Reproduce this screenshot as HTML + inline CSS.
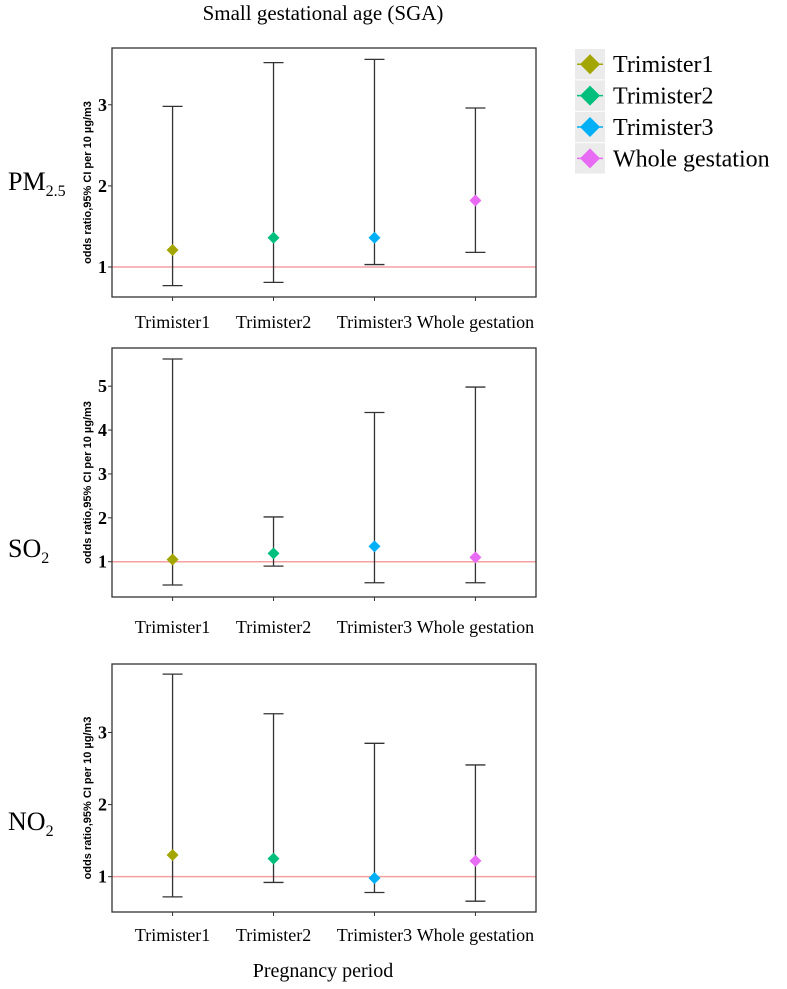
<!DOCTYPE html>
<html><head><meta charset="utf-8"><style>
body{margin:0;background:#fff;}
svg{display:block;}
text{font-family:"Liberation Serif",serif;}
</style></head><body>
<svg id="chart" width="787" height="989" viewBox="0 0 787 989">
<text x="323" y="20" font-size="21" text-anchor="middle">Small gestational age (SGA)</text>
<text x="323" y="977" font-size="20" text-anchor="middle">Pregnancy period</text>
<g id="legend"></g>
</svg>
<script>
const categories = ["Trimister1","Trimister2","Trimister3","Whole gestation"];
const colors = ["#a3a500","#00bf7d","#00b0f6","#e76bf3"];
const pmEst = [1.21, 1.36, 1.36, 1.82];
const pmLo = [0.77, 0.81, 1.03, 1.18];
const pmHi = [2.98, 3.52, 3.56, 2.96];
const so2Est = [1.05, 1.19, 1.35, 1.10];
const so2Lo = [0.47, 0.90, 0.52, 0.52];
const so2Hi = [5.62, 2.02, 4.40, 4.98];
const no2Est = [1.30, 1.25, 0.98, 1.22];
const no2Lo = [0.72, 0.92, 0.78, 0.66];
const no2Hi = [3.81, 3.26, 2.85, 2.55];
const pmTicks = [1, 2, 3];
const so2Ticks = [1, 2, 3, 4, 5];
const no2Ticks = [1, 2, 3];

const NS = "http://www.w3.org/2000/svg";
const svg = document.getElementById("chart");
function mk(tag, attrs, parent){const e=document.createElementNS(NS,tag);for(const k in attrs)e.setAttribute(k,attrs[k]);(parent||svg).appendChild(e);return e;}

const panels = [
 {name:"pm25", sub:"2.5", label:"PM", ly:190, top:48, bottom:297, ymin:0.63, ymax:3.70, est:pmEst, lo:pmLo, hi:pmHi, ticks:pmTicks, catY:328},
 {name:"so2", sub:"2", label:"SO", ly:557, top:348, bottom:597, ymin:0.196, ymax:5.87, est:so2Est, lo:so2Lo, hi:so2Hi, ticks:so2Ticks, catY:633},
 {name:"no2", sub:"2", label:"NO", ly:830, top:664, bottom:912, ymin:0.51, ymax:3.95, est:no2Est, lo:no2Lo, hi:no2Hi, ticks:no2Ticks, catY:941}
];
const left=112, right=536;
function xs(i){ return left + (i+0.6)*(right-left)/4.2; }

panels.forEach(p=>{
  const g = mk("g",{});
  
  
  const ys = v => p.bottom - (v-p.ymin)/(p.ymax-p.ymin)*(p.bottom-p.top);
  const lab = mk("text",{x:8,y:p.ly,"font-size":26},g);
  
  
  lab.textContent = p.label;
  const ts = mk("tspan",{"font-size":16,dy:6},lab); ts.textContent=p.sub;
  const yt = mk("text",{transform:`translate(91,${(p.top+p.bottom)/2+10}) rotate(-90)`,"font-size":11,"font-weight":"bold","text-anchor":"middle",style:"font-family:'Liberation Sans',sans-serif"},g);
  
  
  yt.textContent="odds ratio,95% CI per 10 µg/m3";
  p.ticks.forEach(t=>{
    const y=ys(t);
    const tl=mk("line",{x1:left-4,x2:left,y1:y,y2:y,stroke:"#333"},g);
    
    
    const tx=mk("text",{x:left-5,y:y+6,"font-size":18,"font-weight":"bold","text-anchor":"end"},g);
    
    
    tx.textContent=t;
  });
  const ref=mk("line",{x1:left,x2:right,y1:ys(1),y2:ys(1),stroke:"#f4a0a0","stroke-width":1.5},g);
  
  
  categories.forEach((c,i)=>{
    const x=xs(i);
    const tk=mk("line",{x1:x,x2:x,y1:p.bottom,y2:p.bottom+4,stroke:"#333"},g);
    
    
    const ct=mk("text",{x:x,y:p.catY,"font-size":18,"text-anchor":"middle"},g);
    
    
    ct.textContent=c;
    const eb=mk("path",{d:`M${x-10},${ys(p.hi[i])}H${x+10}M${x},${ys(p.hi[i])}V${ys(p.lo[i])}M${x-10},${ys(p.lo[i])}H${x+10}`,stroke:"#333","stroke-width":1.3,fill:"none"},g);
    
    
    const y=ys(p.est[i]);
    const d=mk("path",{d:`M${x},${y-6}L${x+6},${y}L${x},${y+6}L${x-6},${y}Z`,fill:colors[i]},g);
    
    
  });
  const box=mk("rect",{x:left,y:p.top,width:right-left,height:p.bottom-p.top,fill:"none",stroke:"#333","stroke-width":1.3},g);
  
  
});

const lg=document.getElementById("legend");
categories.forEach((c,i)=>{
  const y=49+i*31.4;
  const bg=mk("rect",{x:575,y:y,width:30,height:30.4,fill:"#ebebeb"},lg);
  
  
  const cy=y+15.2;
  const ln=mk("line",{x1:577,x2:603,y1:cy,y2:cy,stroke:colors[i],"stroke-width":1.5},lg);
  
  
  const dm=mk("path",{d:`M590,${cy-10}L600,${cy}L590,${cy+10}L580,${cy}Z`,fill:colors[i]},lg);
  
  
  const t=mk("text",{x:613,y:cy+8,"font-size":24},lg);
  
  
  t.textContent=c;
});
</script>
</body></html>
